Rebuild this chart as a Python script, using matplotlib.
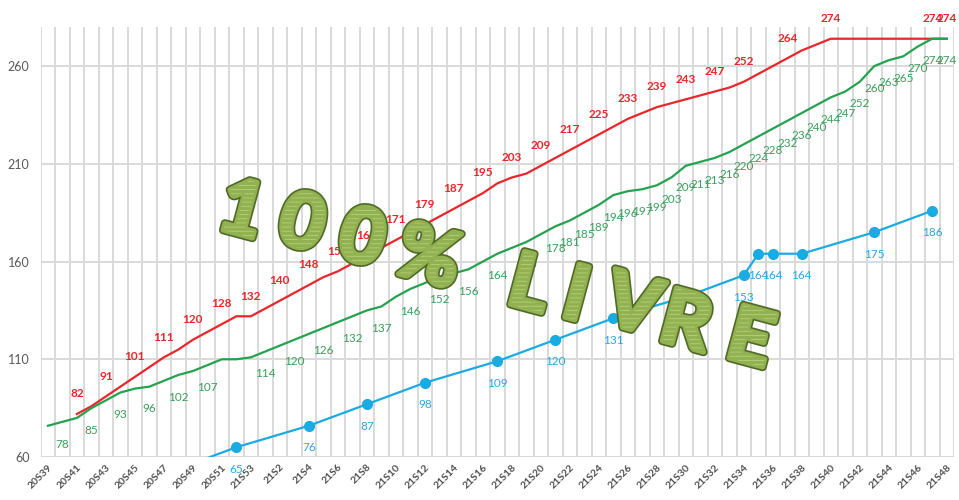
import numpy as np
import matplotlib
matplotlib.use("Agg")
import matplotlib.pyplot as plt
from matplotlib.textpath import TextPath
from matplotlib.patches import PathPatch
from matplotlib.font_manager import FontProperties
from matplotlib.transforms import Affine2D
from matplotlib.ticker import FixedLocator

# ------------------------------Define layout------------------------------
plt.rc('font', family=['Lato', 'DejaVu Sans'], size=9)
plt.rc('hatch', linewidth=0.6)

# ------------------------------Data---------------------------------------
tick_labels = ["20S39", "20S41", "20S43", "20S45", "20S47", "20S49", "20S51", "21S53",
               "21S2", "21S4", "21S6", "21S8", "21S10", "21S12", "21S14", "21S16",
               "21S18", "21S20", "21S22", "21S24", "21S26", "21S28", "21S30", "21S32",
               "21S34", "21S36", "21S38", "21S40", "21S42", "21S44", "21S46", "21S48"]
n_cat = 63

# red series (starts at 20S41)
red_idx = list(range(2, 63))
red_val = [82, 86, 91, 96, 101, 106, 111, 115, 120, 124, 128, 132, 132, 136, 140, 144,
           148, 152, 155, 159, 163, 167, 171, 175, 179, 183, 187, 191, 195, 200, 203,
           205, 209, 213, 217, 221, 225, 229, 233, 236, 239, 241, 243, 245, 247, 249,
           252, 256, 260, 264, 268, 271, 274, 274, 274, 274, 274, 274, 274, 274, 274]
red_lab_idx = list(range(2, 49, 2)) + [51, 54, 61, 62]

# green series
green_idx = list(range(0, 63))
green_val = [76, 78, 80, 85, 89, 93, 95, 96, 99, 102, 104, 107, 110, 110, 111, 114,
             117, 120, 123, 126, 129, 132, 135, 137, 142, 146, 149, 152, 154, 156, 160,
             164, 167, 170, 174, 178, 181, 185, 189, 194, 196, 197, 199, 203, 209, 211,
             213, 216, 220, 224, 228, 232, 236, 240, 244, 247, 252, 260, 263, 265, 270,
             274, 274]
green_lab_idx = [1, 3, 5, 7, 9, 11, 15, 17, 19, 21, 23, 25, 27, 29, 31, 33] + list(range(35, 63))

# blue series
blue_idx = [9, 13, 18, 22, 26, 31, 35, 39, 44, 48, 49, 50, 52, 57, 61]
blue_val = [54, 65, 76, 87, 98, 109, 120, 131, 142, 153, 164, 164, 164, 175, 186]

red_c = '#e8262b'
green_c = '#25a24f'
blue_c = '#1aabe3'

# ------------------------------Figure-------------------------------------
fig = plt.figure(figsize=(9.59, 5.0), dpi=100)
ax = fig.add_axes([40.7 / 959, 1 - 457 / 500, (954 - 40.7) / 959, (457 - 27) / 500])

ax.plot(red_idx, red_val, color=red_c, lw=1.6, zorder=3)
ax.plot(blue_idx, blue_val, color=blue_c, lw=1.6, marker='o', ms=7, zorder=3)
ax.plot(green_idx, green_val, color=green_c, lw=1.6, zorder=4)

# data labels
for i in red_lab_idx:
    v = red_val[red_idx.index(i)]
    ax.annotate(str(v), (i, v), xytext=(0, 14.5), textcoords='offset points',
                ha='center', va='center', color=red_c, fontsize=8.5, fontweight='bold', zorder=5)
for i in green_lab_idx:
    v = green_val[green_idx.index(i)]
    ax.annotate(str(v), (i, v), xytext=(0, -16), textcoords='offset points',
                ha='center', va='center', color='#3a9f5c', fontsize=8.5, zorder=5)
for i, v in zip(blue_idx, blue_val):
    ax.annotate(str(v), (i, v), xytext=(0, -16), textcoords='offset points',
                ha='center', va='center', color='#2aa7dc', fontsize=8.5, zorder=5)

# ++++++++++++Axes, ticks and grid+++++++++++++++++++++++
ax.set_xlim(-0.5, n_cat - 0.5)
ax.set_ylim(60, 280)
ax.set_yticks([60, 110, 160, 210, 260])
ax.set_xticks(range(0, n_cat, 2))
ax.set_xticklabels(tick_labels, rotation=45, ha='right', va='top', rotation_mode='anchor',
                   fontsize=7.5, fontweight='bold', color='#505050')
ax.xaxis.set_minor_locator(FixedLocator(np.arange(-0.5, n_cat, 1.0)))
ax.tick_params(which='both', length=0)
ax.tick_params(axis='y', colors='#595959', labelsize=9, pad=8)
ax.tick_params(axis='x', pad=4)
ax.grid(axis='y', which='major', color='#d9d9d9', lw=1.4)
ax.grid(axis='x', which='minor', color='#d9d9d9', lw=1.4)
for s in ax.spines.values():
    s.set_visible(False)

# ++++++++++++Watermark "100% LIVRE"+++++++++++++++++++++
ov = fig.add_axes([0, 0, 1, 1], zorder=10)
ov.set_xlim(0, 959)
ov.set_ylim(500, 0)
ov.axis('off')
ov.patch.set_alpha(0)

wm_chars = ['1', '0', '0', '%', 'L', 'I', 'V', 'R', 'E']
wm_pos = [(243, 207), (303, 220), (363, 235), (430, 254), (533, 282),
          (577, 292), (634, 302), (690, 320), (753, 336)]
fp = FontProperties(family=['Lato', 'DejaVu Sans'], weight='bold')
for ch, (cx, cy) in zip(wm_chars, wm_pos):
    tp = TextPath((0, 0), ch, size=76, prop=fp)
    ext = tp.get_extents()
    tr = (Affine2D().translate(-(ext.x0 + ext.x1) / 2, -(ext.y0 + ext.y1) / 2)
          .scale(1, -1).rotate_deg(15).translate(cx, cy))
    p = tr.transform_path(tp)
    # thick dark rim, then fill-coloured stroke to fatten the glyph, then stripes
    ov.add_patch(PathPatch(p, facecolor='#4f6a26', edgecolor='#4f6a26', lw=6.0,
                           joinstyle='round', zorder=1))
    ov.add_patch(PathPatch(p, facecolor='#92b150', edgecolor='#92b150', lw=3.6,
                           joinstyle='round', zorder=2))
    ov.add_patch(PathPatch(p, facecolor='none', edgecolor='#b7d07e', lw=0,
                           hatch='----', zorder=3))

fig.savefig('out.png', dpi=100)
